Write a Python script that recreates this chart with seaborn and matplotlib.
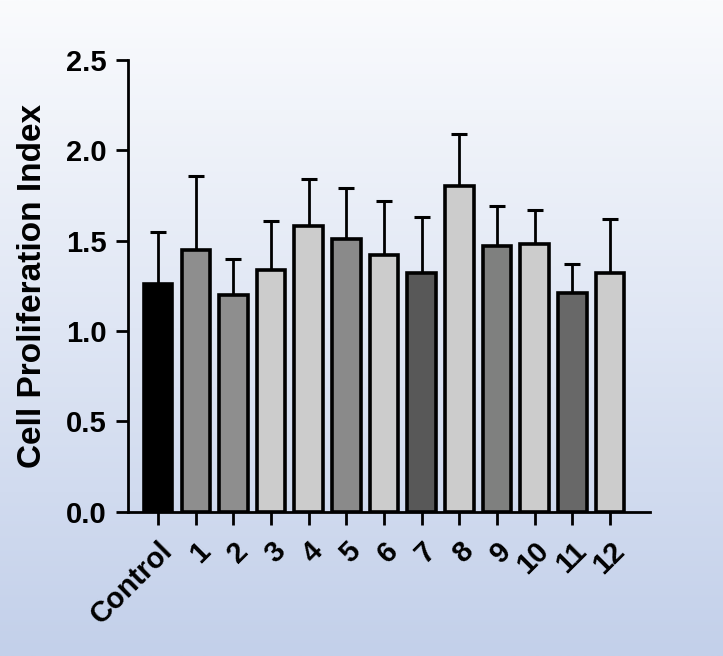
import matplotlib
matplotlib.use("Agg")
import matplotlib.pyplot as plt
from matplotlib.colors import LinearSegmentedColormap
import numpy as np
import pandas as pd
import seaborn as sns

# data
groups = ["Control", "1", "2", "3", "4", "5", "6", "7", "8", "9", "10", "11", "12"]
means = [1.26, 1.45, 1.20, 1.34, 1.58, 1.51, 1.42, 1.32, 1.80, 1.47, 1.48, 1.21, 1.32]
upper = [1.55, 1.86, 1.40, 1.61, 1.84, 1.79, 1.72, 1.63, 2.09, 1.69, 1.67, 1.37, 1.62]
fills = ["#000000", "#8e8e8e", "#8e8e8e", "#cccccc", "#cccccc", "#8a8a8a", "#cccccc",
         "#585858", "#cccccc", "#7f807f", "#cccccc", "#686868", "#cccccc"]

df = pd.DataFrame({"group": groups, "mean": means, "upper": upper})
df["err"] = df["upper"] - df["mean"]

sns.set_style("ticks")
plt.rcParams["font.family"] = ["Liberation Sans", "DejaVu Sans"]
plt.rcParams["font.weight"] = "bold"
for k in ["text.color", "axes.labelcolor", "xtick.color", "ytick.color", "axes.edgecolor"]:
    plt.rcParams[k] = "black"

fig = plt.figure(figsize=(7.23, 6.56), dpi=100)

# gradient background: near white at the top, pale blue at the bottom
bg = fig.add_axes([0, 0, 1, 1], zorder=-10)
cmap = LinearSegmentedColormap.from_list("bg", ["#fafbfd", "#dfe6f4", "#c3d0ea"])
bg.imshow(np.linspace(0, 1, 256).reshape(-1, 1), aspect="auto", cmap=cmap,
          extent=[0, 1, 0, 1])
bg.set_axis_off()

ax = fig.add_axes([0.1766, 0.22, 0.7224, 0.6885])
ax.patch.set_alpha(0)

sns.barplot(data=df, x="group", y="mean", hue="group", palette=dict(zip(groups, fills)),
            legend=False, width=0.76, edgecolor="black", linewidth=2.6, ax=ax,
            zorder=3)

pos = np.arange(len(groups))
ax.errorbar(pos, df["mean"], yerr=[np.zeros(len(groups)), df["err"]], fmt="none",
            ecolor="black", elinewidth=2, capsize=6, capthick=2.2, zorder=2)

ax.set_ylim(0, 2.5)
ax.set_xlim(-0.81, 13.06)
yt = [0, 0.5, 1.0, 1.5, 2.0, 2.5]
ax.set_yticks(yt)
ax.set_yticklabels([f"{v:.1f}" for v in yt], fontsize=21, fontweight="bold")
ax.set_xticks(pos)
ax.set_xticklabels(groups, rotation=45, ha="right", rotation_mode="anchor",
                   fontsize=21, fontweight="bold")
ax.tick_params(axis="both", length=9, width=2, direction="out", pad=6)
ax.tick_params(axis="x", pad=9)

ax.set_xlabel("")
ax.set_ylabel("Cell Proliferation Index", fontsize=24, fontweight="bold", labelpad=13)

sns.despine(ax=ax)
for s in ["left", "bottom"]:
    ax.spines[s].set_linewidth(2)

fig.savefig("out.png", dpi=100)
plt.close(fig)
